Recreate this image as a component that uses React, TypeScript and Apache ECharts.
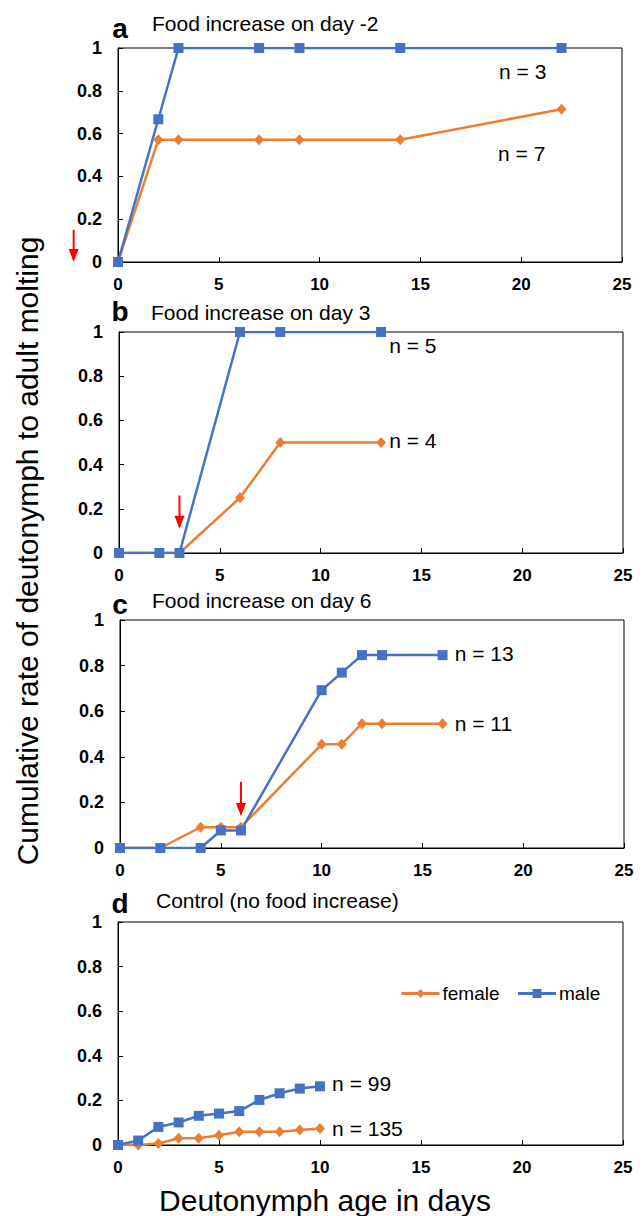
import React, { useEffect, useRef } from "react";
import * as echarts from "echarts";

// ---- data ----
const DAYS_A = [0, 2, 3, 7, 9, 14, 22];
const FEMALE_A = [0, 0.571, 0.571, 0.571, 0.571, 0.571, 0.714];
const MALE_A = [0, 0.667, 1, 1, 1, 1, 1];

const DAYS_B = [0, 2, 3, 6, 8, 13];
const FEMALE_B = [0, 0, 0, 0.25, 0.5, 0.5];
const MALE_B = [0, 0, 0, 1, 1, 1];

const DAYS_C = [0, 2, 4, 5, 6, 10, 11, 12, 13, 16];
const FEMALE_C = [0, 0, 0.091, 0.091, 0.091, 0.455, 0.455, 0.545, 0.545, 0.545];
const MALE_C = [0, 0, 0, 0.077, 0.077, 0.692, 0.769, 0.846, 0.846, 0.846];

const DAYS_D = [0, 1, 2, 3, 4, 5, 6, 7, 8, 9, 10];
const FEMALE_D = [0, 0, 0.007, 0.03, 0.03, 0.044, 0.059, 0.059, 0.059, 0.067, 0.074];
const MALE_D = [0, 0.02, 0.081, 0.101, 0.131, 0.141, 0.152, 0.202, 0.232, 0.253, 0.263];

const PANEL_LETTERS = ["a", "b", "c", "d"];
const PANEL_TITLES = [
  "Food increase on day -2",
  "Food increase on day 3",
  "Food increase on day 6",
  "Control (no food increase)",
];
const SERIES_NAMES = ["female", "male"];
const X_TITLE = "Deutonymph age in days";
const Y_TITLE = "Cumulative rate of deutonymph to adult molting";

// n-labels: panel, text, anchor in data coords
const N_LABELS = [
  { panel: 0, text: "n = 3", x: 18.9, y: 0.89 },
  { panel: 0, text: "n = 7", x: 18.85, y: 0.505 },
  { panel: 1, text: "n = 5", x: 13.4, y: 0.937 },
  { panel: 1, text: "n = 4", x: 13.4, y: 0.507 },
  { panel: 2, text: "n = 13", x: 16.6, y: 0.855 },
  { panel: 2, text: "n = 11", x: 16.6, y: 0.544 },
  { panel: 3, text: "n = 99", x: 10.6, y: 0.274 },
  { panel: 3, text: "n = 135", x: 10.6, y: 0.076 },
];

// food-increase arrows: panel, day, top value, tip value
const ARROWS = [
  { panel: 0, day: -2.2, from: 0.15, to: 0 },
  { panel: 1, day: 3, from: 0.26, to: 0.11 },
  { panel: 2, day: 6, from: 0.29, to: 0.14 },
];

const PANELS = [
  { days: DAYS_A, female: FEMALE_A, male: MALE_A },
  { days: DAYS_B, female: FEMALE_B, male: MALE_B },
  { days: DAYS_C, female: FEMALE_C, male: MALE_C },
  { days: DAYS_D, female: FEMALE_D, male: MALE_D },
];

const GRIDS = [
  { left: 118, top: 48, width: 504, height: 214 },
  { left: 119, top: 332, width: 504, height: 221 },
  { left: 120, top: 620, width: 504, height: 228 },
  { left: 118, top: 922, width: 505, height: 223 },
];
const TITLE_POS = [
  { lx: 120, ly: 28, tx: 152, ty: 23 },
  { lx: 120, ly: 311, tx: 151, ty: 312 },
  { lx: 120, ly: 604, tx: 152, ty: 600 },
  { lx: 120, ly: 903, tx: 156, ty: 900 },
];

const FONT = "'Liberation Sans', Arial, Helvetica, sans-serif";
const BLUE = "#4472C4";
const ORANGE = "#ED7D31";

export default function App() {
  const ref = useRef<HTMLDivElement>(null);
  useEffect(() => {
    document.body.style.margin = "0";
    const chart = echarts.init(ref.current!, null, { renderer: "svg" });

    const grid = GRIDS.map((g) => ({
      ...g,
      show: true,
      borderColor: "#000",
      borderWidth: 1,
      backgroundColor: "transparent",
    }));
    const xAxis = GRIDS.map((_, i) => ({
      type: "value",
      gridIndex: i,
      min: 0,
      max: 25,
      interval: 5,
      splitLine: { show: false },
      axisLine: { show: true, lineStyle: { color: "#000", width: 1 } },
      axisTick: { show: true, inside: true, length: 5, lineStyle: { color: "#000" } },
      axisLabel: {
        color: "#000",
        fontFamily: FONT,
        fontWeight: "bold",
        fontSize: 17,
        margin: 14,
      },
    }));
    const yAxis = GRIDS.map((_, i) => ({
      type: "value",
      gridIndex: i,
      min: 0,
      max: 1,
      interval: 0.2,
      splitLine: { show: false },
      axisLine: { show: true, lineStyle: { color: "#000", width: 1 } },
      axisTick: { show: true, inside: true, length: 5, lineStyle: { color: "#000" } },
      axisLabel: {
        color: "#000",
        fontFamily: FONT,
        fontWeight: "bold",
        fontSize: 18,
        margin: 16,
      },
    }));
    const series: any[] = [];
    PANELS.forEach((p, i) => {
      series.push({
        name: SERIES_NAMES[0],
        type: "line",
        xAxisIndex: i,
        yAxisIndex: i,
        data: p.days.map((d, k) => [d, p.female[k]]),
        symbol: "diamond",
        symbolSize: [10, 11],
        itemStyle: { color: ORANGE },
        lineStyle: { color: ORANGE, width: 2.5 },
      });
      series.push({
        name: SERIES_NAMES[1],
        type: "line",
        xAxisIndex: i,
        yAxisIndex: i,
        data: p.days.map((d, k) => [d, p.male[k]]),
        symbol: "rect",
        symbolSize: 10,
        itemStyle: { color: BLUE },
        lineStyle: { color: BLUE, width: 2.5 },
      });
    });

    chart.setOption({
      animation: false,
      grid,
      xAxis,
      yAxis,
      series,
      legend: {
        data: SERIES_NAMES,
        left: 400,
        top: 984,
        padding: 0,
        itemWidth: 38,
        itemHeight: 11,
        itemGap: 17,
        lineStyle: { width: 3 },
        textStyle: { fontFamily: FONT, fontSize: 19, color: "#000", padding: [0, 0, 0, -2] },
      },
    });

    const graphic: any[] = [];
    TITLE_POS.forEach((t, i) => {
      graphic.push({
        type: "text",
        x: t.lx,
        y: t.ly,
        style: {
          text: PANEL_LETTERS[i],
          fontFamily: FONT,
          fontWeight: "bold",
          fontSize: 28,
          fill: "#000",
          align: "center",
          verticalAlign: "middle",
        },
      });
      graphic.push({
        type: "text",
        x: t.tx,
        y: t.ty,
        style: {
          text: PANEL_TITLES[i],
          fontFamily: FONT,
          fontSize: 21,
          fill: "#000",
          align: "left",
          verticalAlign: "middle",
        },
      });
    });
    N_LABELS.forEach((n) => {
      const [px, py] = chart.convertToPixel({ gridIndex: n.panel } as any, [n.x, n.y]) as number[];
      graphic.push({
        type: "text",
        x: px,
        y: py,
        style: {
          text: n.text,
          fontFamily: FONT,
          fontSize: 21,
          fill: "#000",
          align: "left",
          verticalAlign: "middle",
        },
      });
    });
    ARROWS.forEach((a) => {
      const [px, pTop] = chart.convertToPixel({ gridIndex: a.panel } as any, [a.day, a.from]) as number[];
      const [, pTip] = chart.convertToPixel({ gridIndex: a.panel } as any, [a.day, a.to]) as number[];
      const head = 13;
      graphic.push({
        type: "line",
        shape: { x1: px, y1: pTop, x2: px, y2: pTip - head + 1 },
        style: { stroke: "#FF0000", lineWidth: 2 },
      });
      graphic.push({
        type: "polygon",
        shape: {
          points: [
            [px - 5, pTip - head],
            [px + 5, pTip - head],
            [px, pTip],
          ],
        },
        style: { fill: "#FF0000" },
      });
    });
    graphic.push({
      type: "text",
      x: 27,
      y: 551,
      rotation: Math.PI / 2,
      style: {
        text: Y_TITLE,
        fontFamily: FONT,
        fontSize: 30,
        fill: "#000",
        align: "center",
        verticalAlign: "middle",
      },
    });
    graphic.push({
      type: "text",
      x: 325,
      y: 1200,
      style: {
        text: X_TITLE,
        fontFamily: FONT,
        fontSize: 30,
        fill: "#000",
        align: "center",
        verticalAlign: "middle",
      },
    });
    chart.setOption({ graphic });

    return () => chart.dispose();
  }, []);
  return <div ref={ref} style={{ width: 642, height: 1216 }} />;
}
